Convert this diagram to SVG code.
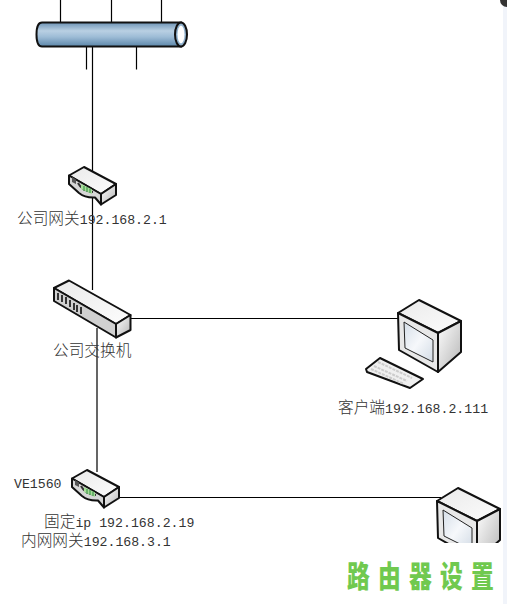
<svg xmlns="http://www.w3.org/2000/svg" width="507" height="604" viewBox="0 0 507 604">
<style>
.ln{fill:none;stroke:#000;stroke-width:1.2}
.o{stroke:#111;stroke-width:2;stroke-linejoin:round}
.t{stroke:#222;stroke-width:1;stroke-linejoin:round}
.lb{font-family:"Liberation Mono","Noto Sans CJK SC",monospace;font-size:13.200px;fill:#333}
.cj{font-family:"Noto Sans CJK SC",sans-serif;font-size:15.700px;font-weight:300}
.wm{font-family:"Noto Sans CJK SC",sans-serif;font-size:30px;font-weight:900;fill:#70c94f}
</style>
<defs>
<linearGradient id="pipe" x1="0" y1="0" x2="0" y2="1">
<stop offset="0" stop-color="#6d93b5"/><stop offset=".35" stop-color="#b9d0e3"/><stop offset=".6" stop-color="#9dbcd6"/><stop offset="1" stop-color="#5c86a9"/>
</linearGradient>
<linearGradient id="side" x1="0" y1="0" x2="1" y2="1">
<stop offset="0" stop-color="#fff"/><stop offset="1" stop-color="#b4b4b4"/>
</linearGradient>
<linearGradient id="top" x1="0" y1="0" x2="1" y2="1">
<stop offset="0" stop-color="#eaeaea"/><stop offset="1" stop-color="#fcfcfc"/>
</linearGradient>
<linearGradient id="scr" x1="0" y1="0" x2="1" y2="1">
<stop offset="0" stop-color="#d5dee8"/><stop offset=".5" stop-color="#f6f8fb"/><stop offset="1" stop-color="#d2dbe5"/>
</linearGradient>
<g id="router">
<path class="o" fill="url(#top)" d="M0 8.500 15 0 47 17 32 27 Z"/>
<path class="o" fill="url(#side)" d="M47 17V28L32 37.500V27Z"/>
<path class="o" fill="#d6d6d6" d="M0 8.500V17L10 26Q16 31 26 30.500L32 37.500V27Z"/>
<path d="M3 10 7 12.500V17L3 15Z" fill="#555"/>
<path d="M9 16Q13 24 24 25" fill="none" stroke="#333" stroke-width="2"/>
<path d="M12 17 23 22.500V27L12 22Z" fill="#a6dc98"/>
<path d="M15 19V24M18 20V25M21 21.500V26" stroke="#2d8a3d" stroke-width="1"/>
</g>
<g id="pc">
<path class="o" fill="url(#top)" d="M0 13 21 0 63 21 40 33 Z"/>
<path class="o" fill="url(#side)" d="M63 21V52L40 72V33Z"/>
<path class="o" fill="#e8e8e8" d="M0 13 1 50 40 72V33Z"/>
<path class="t" fill="url(#scr)" d="M6 22 35 40V62L7 48Z"/>
</g>
<clipPath id="cut"><rect x="0" y="0" width="507" height="543"/></clipPath>
</defs>
<rect width="507" height="604" fill="#fff"/>
<rect x="503" y="0" width="4" height="604" fill="#f1f4fa"/>
<circle cx="507" cy="0" r="7" fill="#333"/>
<g id="connectors">
<path class="ln" d="M60.500 0V22M111.500 0V22M161.500 0V22M86.500 47V69.500M136.500 47V69.500"/>
<path class="ln" d="M92.500 47V290M97 328V472M130 318.500H399M118 497.500H441"/>
</g>
<g id="backbone">
<path d="M42 22.500H181V46.500H42Q36.500 46.500 36.500 34.500T42 22.500Z" fill="url(#pipe)" stroke="#111" stroke-width="2"/>
<ellipse cx="181" cy="34.500" rx="6" ry="12" fill="#8fb0cc" stroke="#111" stroke-width="2"/>
<ellipse cx="181" cy="34.500" rx="3.500" ry="9" fill="#fff"/>
</g>
<g id="gateway"><use href="#router" transform="translate(69 167)"/>
<text class="lb" x="17" y="224"><tspan class="cj">公司网关</tspan><tspan textLength="87">192.168.2.1</tspan></text></g>
<g id="switch">
<path class="o" fill="url(#top)" d="M54 288 69 280.500 130.500 315 116 324Z"/>
<path class="o" fill="url(#side)" d="M130.500 315V330L116 337.500V324Z"/>
<path class="o" fill="#d0d0d0" d="M54 288V301L116 337.500V324Z"/>
<path d="M58 293V300M62 295V302M66 297V304M70 300V307M74 303V310M77 305V312M81 307V314" stroke="#333" stroke-width="2"/>
<text class="cj" x="53" y="356" fill="#333">公司交换机</text></g>
<g id="client"><use href="#pc" transform="translate(398 300)"/>
<path class="o" fill="#f0f0f0" stroke-width="1.500" d="M380 358 366 369 367 372 410 388 423 379Z"/>
<path d="M378 362 412 378M374 366 407 381M371 369 404 384" stroke="#ccc" stroke-width="2" stroke-dasharray="3 1"/>
<text class="lb" x="338" y="413"><tspan class="cj">客户端</tspan><tspan textLength="103">192.168.2.111</tspan></text></g>
<g id="ve1560"><use href="#router" transform="translate(72 470)"/>
<text class="lb" x="14" y="488" fill="#111">VE1560</text>
<text class="lb" x="44" y="527"><tspan class="cj">固定</tspan><tspan textLength="119">ip 192.168.2.19</tspan></text>
<text class="lb" x="21" y="546"><tspan class="cj">内网网关</tspan><tspan textLength="87">192.168.3.1</tspan></text></g>
<g id="client2" clip-path="url(#cut)"><use href="#pc" transform="translate(437 488)"/></g>
<g id="watermark"><text class="wm" transform="translate(347 587) scale(.76 1)">路</text>
<text class="wm" transform="translate(378 587) scale(.76 1)">由</text>
<text class="wm" transform="translate(409 587) scale(.76 1)">器</text>
<text class="wm" transform="translate(440 587) scale(.76 1)">设</text>
<text class="wm" transform="translate(471 587) scale(.76 1)">置</text></g>
</svg>
